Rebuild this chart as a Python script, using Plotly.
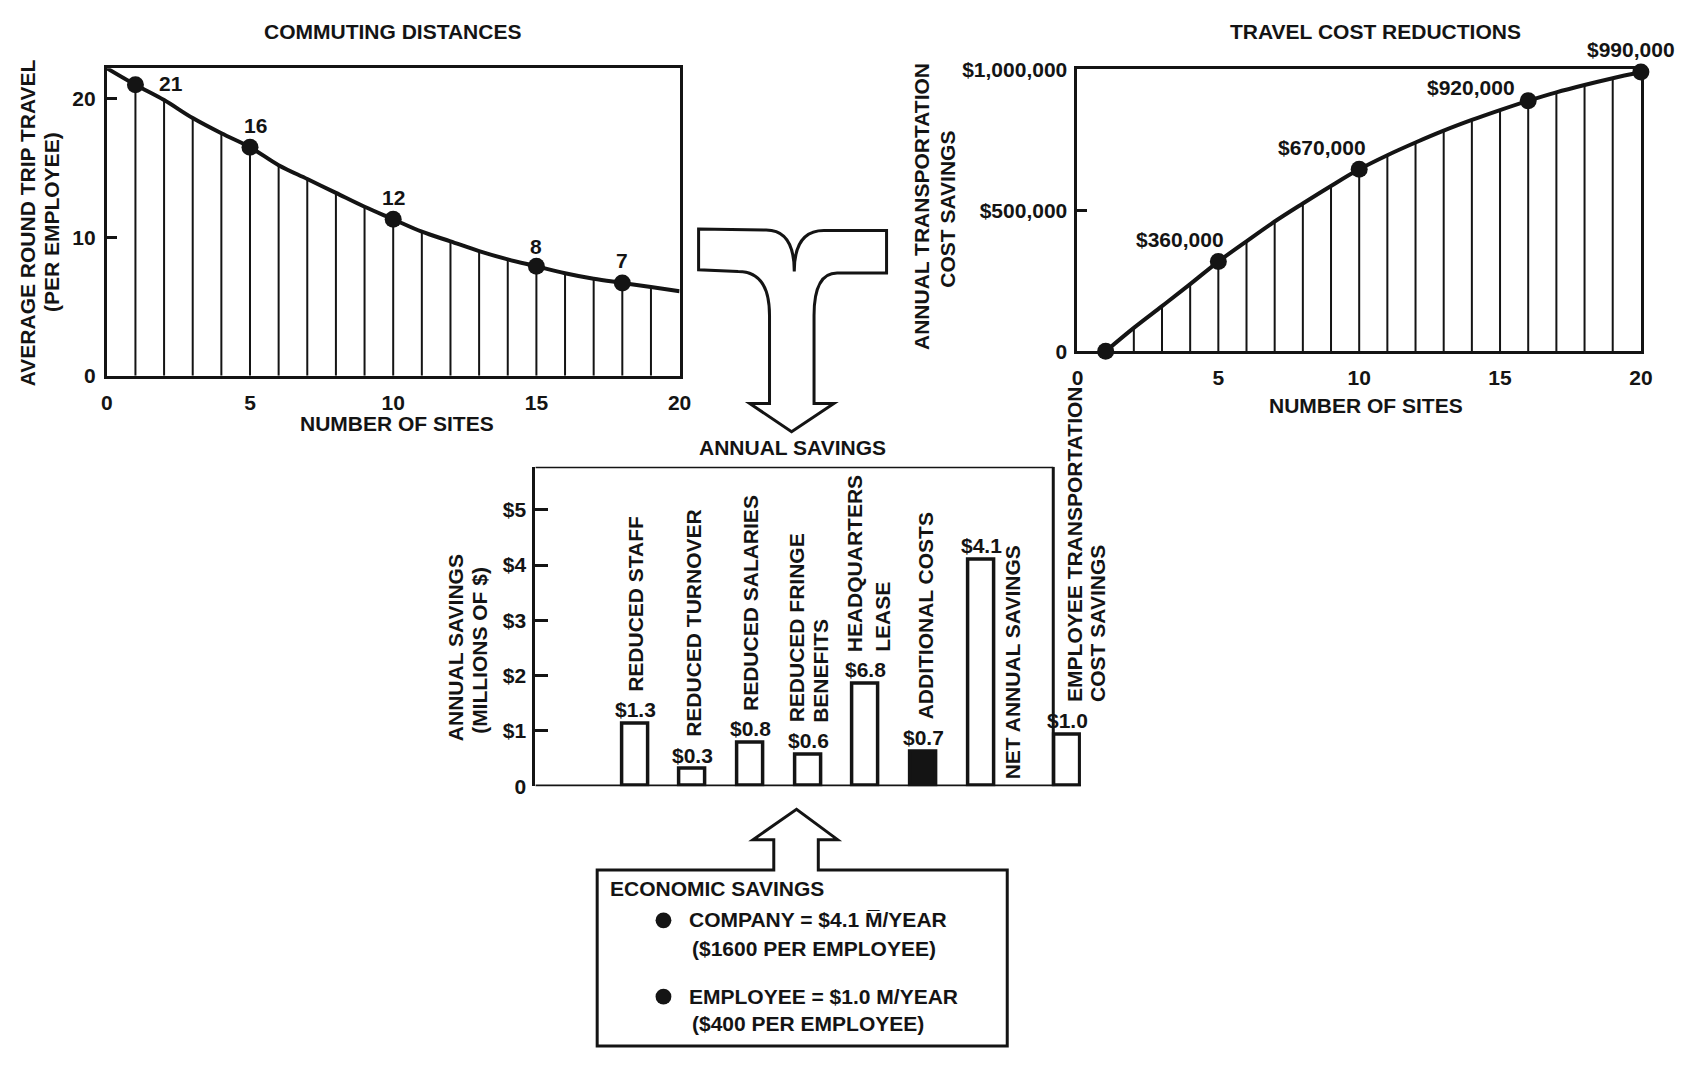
import plotly.graph_objects as go

# page is 1697x1067; the browser keeps its default 8px body margin,
# so the figure is sized to fit inside it and positions are offset by 8px.
PAGE_W, PAGE_H = 1697, 1067
OX, OY = 8, 8
W, H = PAGE_W - 2 * OX, PAGE_H - 2 * OY

# ---------------- data ----------------
# Commuting distances (left panel)
commute_sites = list(range(0, 21))
commute_miles = [22.2, 21.0, 19.9, 18.6, 17.5, 16.5, 15.2, 14.2, 13.2, 12.2, 11.3,
                 10.4, 9.7, 9.0, 8.4, 7.9, 7.4, 7.0, 6.7, 6.4, 6.1]
commute_marked_sites = [1, 5, 10, 15, 18]
commute_marked_labels = ["21", "16", "12", "8", "7"]
commute_ticks = [0, 10, 20]

# Travel cost reductions (right panel)
travel_sites = list(range(1, 21))
travel_savings = [0, 83000, 160000, 238000, 318000, 390000, 460000, 524000, 586000,
                  645000, 695000, 740000, 782000, 820000, 855000, 888000, 918000,
                  944000, 968000, 990000]
travel_marked_sites = [1, 5, 10, 16, 20]
travel_marked_labels = ["", "$360,000", "$670,000", "$920,000", "$990,000"]
travel_tickvals = [0, 500000, 1000000]
travel_ticktext = ["0", "$500,000", "$1,000,000"]

site_ticks = [0, 5, 10, 15, 20]

# Annual savings (centre panel)
savings_categories = ["REDUCED STAFF", "REDUCED TURNOVER", "REDUCED SALARIES",
                      "REDUCED FRINGE<br>BENEFITS", "HEADQUARTERS<br>LEASE",
                      "ADDITIONAL COSTS", "NET ANNUAL SAVINGS",
                      "EMPLOYEE TRANSPORTATION<br>COST SAVINGS"]
savings_values = [1.13, 0.31, 0.79, 0.57, 1.85, 0.63, 4.10, 0.94]
savings_labels = ["$1.3", "$0.3", "$0.8", "$0.6", "$6.8", "$0.7", "$4.1", "$1.0"]
savings_tickvals = [0, 1, 2, 3, 4, 5]
savings_ticktext = ["0", "$1", "$2", "$3", "$4", "$5"]

# ---------------- styling / layout constants ----------------
INK = "#141414"
FONT = "Liberation Sans, Arial, Helvetica, sans-serif"
FS = 21

BAR_SLOTS = [0, 1, 2, 3, 4, 5, 6, 7.5]
BAR_FILL = ["white", "white", "white", "white", "white", INK, "white", "white"]
# x offset (px) of the centre of the rotated label block; line gap for 2-line labels
CAT_XSHIFT = [1, 0, 0, 0, 3, 2, 31, 19]
CAT_LINE_GAP = [0, 0, 0, 24, 28, 0, 0, 23]
CAT_AT_BASE = [False, False, False, False, False, False, True, False]

COMMUTE_LABEL_SHIFT = [(36, 1), (6, 22), (0, 22), (0, 20), (0, 22)]
TRAVEL_LABEL_SHIFT = [(0, 0), (-38, 22), (-37, 22), (-57, 13), (-10, 23)]


def px(x):
    return (x - OX) / W


def py(y):
    return 1 - (y - OY) / H


def P(x, y):
    return f"{px(x):.5f},{py(y):.5f}"


tfont = dict(family=FONT, size=FS, color=INK, weight="bold")

fig = go.Figure()

# ---- left panel: hatching, curve, markers
hx, hy = [], []
for s, v in zip(commute_sites, commute_miles):
    if 0 < s < 20:
        hx += [s, s, None]
        hy += [0, v, None]
fig.add_trace(go.Scatter(x=hx, y=hy, mode="lines", line=dict(color=INK, width=2),
                         xaxis="x", yaxis="y", hoverinfo="skip", showlegend=False))
fig.add_trace(go.Scatter(x=commute_sites, y=commute_miles, mode="lines",
                         line=dict(color=INK, width=4, shape="spline"),
                         xaxis="x", yaxis="y", showlegend=False, cliponaxis=False))
cm_y = [commute_miles[commute_sites.index(s)] for s in commute_marked_sites]
fig.add_trace(go.Scatter(x=commute_marked_sites, y=cm_y, mode="markers",
                         marker=dict(color=INK, size=17), xaxis="x", yaxis="y",
                         showlegend=False, cliponaxis=False))

# ---- right panel
rx, ry = [], []
for s, v in zip(travel_sites, travel_savings):
    if 1 < s < 20:
        rx += [s, s, None]
        ry += [0, v, None]
fig.add_trace(go.Scatter(x=rx, y=ry, mode="lines", line=dict(color=INK, width=2),
                         xaxis="x2", yaxis="y2", hoverinfo="skip", showlegend=False))
fig.add_trace(go.Scatter(x=travel_sites, y=travel_savings, mode="lines",
                         line=dict(color=INK, width=4, shape="spline"),
                         xaxis="x2", yaxis="y2", showlegend=False, cliponaxis=False))
tm_y = [travel_savings[travel_sites.index(s)] for s in travel_marked_sites]
fig.add_trace(go.Scatter(x=travel_marked_sites, y=tm_y, mode="markers",
                         marker=dict(color=INK, size=17), xaxis="x2", yaxis="y2",
                         showlegend=False, cliponaxis=False))

# ---- centre panel bars
fig.add_trace(go.Bar(x=BAR_SLOTS, y=savings_values, width=0.45,
                     marker=dict(color=BAR_FILL, line=dict(color=INK, width=3.5)),
                     xaxis="x3", yaxis="y3", showlegend=False, cliponaxis=False))

ann = []
# panel titles
ann.append(dict(text="COMMUTING DISTANCES", x=px(391), y=py(19.5)))
ann.append(dict(text="NUMBER OF SITES", x=px(395), y=py(421)))
ann.append(dict(text="TRAVEL COST REDUCTIONS", x=px(1384), y=py(20)))
ann.append(dict(text="NUMBER OF SITES", x=px(1375), y=py(402)))
ann.append(dict(text="ANNUAL SAVINGS", x=px(795), y=py(445)))
for a in ann:
    a.update(xref="paper", yref="paper", showarrow=False, font=tfont,
             xanchor="center", yanchor="middle")

# rotated axis titles (one annotation per line for tight line spacing)
for text, x, y in [("AVERAGE ROUND TRIP TRAVEL", 22, 215), ("(PER EMPLOYEE)", 46, 215),
                   ("ANNUAL TRANSPORTATION", 926, 199), ("COST SAVINGS", 952, 201),
                   ("ANNUAL SAVINGS", 455, 650), ("(MILLIONS OF $)", 479, 652)]:
    ann.append(dict(text=text, x=px(x), y=py(y), xref="paper", yref="paper",
                    showarrow=False, textangle=-90, font=tfont, xanchor="center",
                    yanchor="middle"))

# point labels
for s, lab, (dx, dy) in zip(commute_marked_sites, commute_marked_labels, COMMUTE_LABEL_SHIFT):
    ann.append(dict(text=lab, x=s, y=commute_miles[commute_sites.index(s)], xref="x", yref="y",
                    showarrow=False, font=tfont, xshift=dx, yshift=dy,
                    xanchor="center", yanchor="middle"))
for s, lab, (dx, dy) in zip(travel_marked_sites, travel_marked_labels, TRAVEL_LABEL_SHIFT):
    if not lab:
        continue
    ann.append(dict(text=lab, x=s, y=travel_savings[travel_sites.index(s)], xref="x2", yref="y2",
                    showarrow=False, font=tfont, xshift=dx, yshift=dy,
                    xanchor="center", yanchor="middle"))

# bar value labels and rotated category labels
for i, (slot, v, lab, cat) in enumerate(zip(BAR_SLOTS, savings_values, savings_labels,
                                             savings_categories)):
    ann.append(dict(text=lab, x=slot, y=v, xref="x3", yref="y3", showarrow=False,
                    font=tfont, yshift=14, xanchor="center", yanchor="middle"))
    base = 0 if CAT_AT_BASE[i] else v
    ys = 5 if CAT_AT_BASE[i] else 30
    lines = cat.split("<br>")
    n = len(lines)
    for j, line in enumerate(lines):
        off = (j - (n - 1) / 2) * CAT_LINE_GAP[i]
        ann.append(dict(text=line, x=slot, y=base, xref="x3", yref="y3", showarrow=False,
                        textangle=-90, font=tfont, xshift=CAT_XSHIFT[i] + off, yshift=ys,
                        xanchor="center", yanchor="bottom"))

# economic savings box text
box_text = [("ECONOMIC SAVINGS", 608, 896),
            ("COMPANY = $4.1 M\u0305/YEAR", 688, 928),
            ("($1600 PER EMPLOYEE)", 691, 957),
            ("EMPLOYEE = $1.0 M/YEAR", 688, 1006),
            ("($400 PER EMPLOYEE)", 691, 1034)]
for t, x, y in box_text:
    ann.append(dict(text=t, x=px(x), y=py(y), xref="paper", yref="paper", showarrow=False,
                    font=tfont, xanchor="left", yanchor="middle"))

shapes = []
# centre panel frame (top, right, baseline) in data coords
XL, XR, XB, YT = -1.73, 7.25, 7.73, 5.78
shapes.append(dict(type="line", xref="x3", yref="y3", x0=XL, x1=XR, y0=YT, y1=YT,
                   line=dict(color=INK, width=3)))
shapes.append(dict(type="line", xref="x3", yref="y3", x0=XR, x1=XR, y0=0, y1=YT,
                   line=dict(color=INK, width=3)))
shapes.append(dict(type="line", xref="x3", yref="y3", x0=XL, x1=XB, y0=0, y1=0,
                   line=dict(color=INK, width=3.5)))

# merging arrow
ypath = ("M " + P(700, 221.7) + " L " + P(768.3, 222.7) + " Q " + P(796.7, 222.7) + " " + P(796.7, 265)
         + " Q " + P(796.7, 223.3) + " " + P(826.7, 223.3) + " L " + P(890, 223.3)
         + " L " + P(890, 266.7) + " L " + P(840, 266.7) + " Q " + P(816.7, 266.7) + " " + P(816.7, 310)
         + " L " + P(816.7, 400) + " L " + P(836.7, 400) + " L " + P(794, 429) + " L " + P(751.7, 400)
         + " L " + P(771.7, 400) + " L " + P(771.7, 310) + " Q " + P(771.7, 265) + " " + P(740, 265)
         + " L " + P(700, 263.3) + " Z")
shapes.append(dict(type="path", xref="paper", yref="paper", path=ypath,
                   line=dict(color=INK, width=3), fillcolor="white"))

# economic savings box with up-arrow
bpath = ("M " + P(776, 877) + " L " + P(597.5, 877) + " L " + P(597.5, 1057) + " L " + P(1012, 1057)
         + " L " + P(1012, 877) + " L " + P(821, 877) + " L " + P(821, 846) + " L " + P(840.5, 846)
         + " L " + P(799, 815) + " L " + P(755, 846) + " L " + P(776, 846) + " Z")
shapes.append(dict(type="path", xref="paper", yref="paper", path=bpath,
                   line=dict(color=INK, width=3), fillcolor="rgba(0,0,0,0)"))
for cy in (928.5, 1006.5):
    shapes.append(dict(type="circle", xref="paper", yref="paper",
                       x0=px(656.5), x1=px(672.5), y0=py(cy + 8), y1=py(cy - 8),
                       fillcolor=INK, line=dict(color=INK, width=0)))

axis_base = dict(showgrid=False, zeroline=False, linecolor=INK, linewidth=3,
                 tickfont=tfont, tickcolor=INK, tickwidth=2.5, fixedrange=True)

fig.update_layout(
    width=W, height=H, margin=dict(l=0, r=0, t=0, b=0),
    paper_bgcolor="white", plot_bgcolor="rgba(0,0,0,0)",
    font=dict(family=FONT, color=INK),
    bargap=0,
    xaxis=dict(axis_base, domain=[px(101.8), px(680.8)], range=[0, 20], anchor="y",
               showline=True, mirror=True, ticks="", tickvals=site_ticks,
               ticklabelstandoff=6),
    yaxis=dict(axis_base, domain=[py(371.7), py(57.3)], range=[0, 22.2], anchor="x",
               showline=True, mirror=True, ticks="inside", ticklen=10,
               tickvals=commute_ticks, ticklabelstandoff=4),
    xaxis2=dict(axis_base, domain=[px(1083), px(1652.5)], range=[0, 20], anchor="y2",
                showline=True, mirror=True, ticks="", tickvals=site_ticks,
                ticklabelstandoff=6),
    yaxis2=dict(axis_base, domain=[py(346.7), py(58.3)], range=[0, 1000000], anchor="x2",
                showline=True, mirror=True, ticks="inside", ticklen=10,
                tickvals=travel_tickvals, ticktext=travel_ticktext, ticklabelstandoff=3),
    xaxis3=dict(axis_base, domain=[px(535), px(1086.5)], range=[XL, XB], anchor="y3",
                showline=False, showticklabels=False, ticks=""),
    yaxis3=dict(axis_base, domain=[py(791.3), py(464.7)], range=[0, YT], anchor="x3",
                showline=True, ticks="inside", ticklen=13,
                tickvals=savings_tickvals, ticktext=savings_ticktext, ticklabelstandoff=2),
    annotations=ann,
    shapes=shapes,
)

fig.write_html("out.html", config={"displayModeBar": False})
